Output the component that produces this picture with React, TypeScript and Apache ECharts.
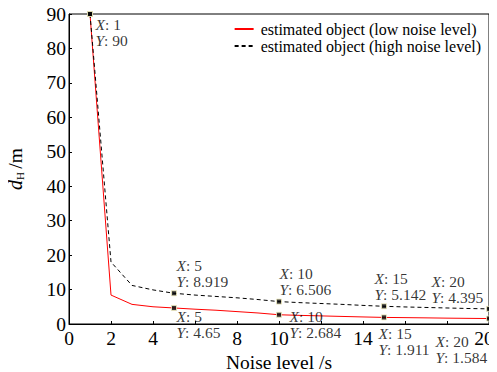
import React, { useEffect, useRef } from "react";
import * as echarts from "echarts";

const noiseLevels = [1, 2, 3, 4, 5, 6, 7, 8, 9, 10, 11, 12, 13, 14, 15, 16, 17, 18, 19, 20];
const lowNoise = [90, 8.4, 5.7, 5.0, 4.65, 4.3, 4.0, 3.6, 3.2, 2.684, 2.5, 2.35, 2.2, 2.05, 1.911, 1.85, 1.78, 1.7, 1.64, 1.584];
const highNoise = [90, 18, 11.2, 9.9, 8.919, 8.4, 8.0, 7.6, 7.1, 6.506, 6.2, 5.95, 5.7, 5.4, 5.142, 4.95, 4.8, 4.65, 4.5, 4.395];
const xTickLabels = ["0", "2", "4", "", "8", "10", "", "14", "", "", "20"];
const seriesNames = ["estimated object (low noise level)", "estimated object (high noise level)"];
const tipIndexes = [0, 4, 9, 14, 19];

const FONT = "Liberation Serif";

export default function App() {
  const ref = useRef<HTMLDivElement>(null);
  useEffect(() => {
    if (!ref.current) return;
    const chart = echarts.init(ref.current, null, { renderer: "svg" });

    const tipRich = {
      i: { fontStyle: "italic", fontFamily: FONT, fontSize: 15.5, color: "#000", lineHeight: 16 },
      n: { fontFamily: FONT, fontSize: 15.5, color: "#000", lineHeight: 16 },
    };
    const fmt = (x: number, y: number) => `{i|X}{n|: ${x}}\n{i|Y}{n|: ${y}}`;

    const lowOffsets: Record<number, [number, number] | null> = {
      0: [6, 3], 4: [3, 1], 9: [11, -6], 14: [-5, 9], 19: [-53, 15],
    };
    const highOffsets: Record<number, [number, number] | null> = {
      0: null, 4: [3, -35], 9: [1, -36], 14: [-9, -35], 19: [-57, -35],
    };

    const tipData = (vals: number[], offs: Record<number, [number, number] | null>) =>
      tipIndexes.map((i) => {
        const o = offs[i];
        return {
          value: [noiseLevels[i], vals[i]],
          label: o
            ? {
                show: true,
                position: [o[0] + 2.5, o[1] + 2.5],
                align: "left",
                verticalAlign: "top",
                formatter: fmt(noiseLevels[i], vals[i]),
                rich: tipRich,
              }
            : { show: false },
        };
      });

    chart.setOption({
      animation: false,
      grid: {
        left: 69, right: 8, top: 14, bottom: 48,
        outerBoundsMode: "none", containLabel: false,
        show: true, borderColor: "#000", borderWidth: 1,
      },
      legend: {
        data: seriesNames,
        orient: "vertical",
        right: 16,
        top: 21,
        itemWidth: 19,
        itemHeight: 14,
        itemGap: 1,
        padding: 0,
        itemStyle: { opacity: 0 },
        textStyle: { fontFamily: FONT, fontSize: 16, color: "#000", padding: [0, 0, 0, 2] },
      },
      xAxis: {
        type: "value",
        min: 0,
        max: 20,
        interval: 2,
        name: "Noise level /s",
        nameLocation: "middle",
        nameGap: 24,
        nameTextStyle: { fontFamily: FONT, fontSize: 19.5, color: "#000" },
        axisLine: { show: true, lineStyle: { color: "#000", width: 1 } },
        axisTick: { show: true, inside: true, length: 3, lineStyle: { color: "#000" } },
        axisLabel: {
          fontFamily: FONT,
          fontSize: 19.5,
          color: "#000",
          margin: 4,
          formatter: (v: number) => {
            const t = xTickLabels[Math.round(v / 2)] ?? "";
            return v === 20 ? `{r|${t}}` : t;
          },
          rich: {
            r: { fontFamily: FONT, fontSize: 19.5, color: "#000", padding: [0, 10, 0, 0] },
          },
        },
        splitLine: { show: false },
      },
      yAxis: {
        type: "value",
        min: 0,
        max: 90,
        interval: 10,
        name: "{d|d}{h|H} {m|/m}",
        nameLocation: "middle",
        nameGap: 44,
        nameTextStyle: {
          rich: {
            d: { fontFamily: FONT, fontStyle: "italic", fontSize: 20, color: "#000" },
            h: { fontFamily: FONT, fontSize: 11, color: "#000", verticalAlign: "bottom", padding: [9, 0, 0, 0] },
            m: { fontFamily: FONT, fontSize: 19.5, color: "#000" },
          },
        },
        axisLine: { show: true, lineStyle: { color: "#000", width: 1 } },
        axisTick: { show: true, inside: true, length: 3, lineStyle: { color: "#000" } },
        axisLabel: { fontFamily: FONT, fontSize: 19.5, color: "#000", margin: 3 },
        splitLine: { show: false },
      },
      series: [
        {
          name: seriesNames[0],
          type: "line",
          data: noiseLevels.map((x, i) => [x, lowNoise[i]]),
          symbol: "none",
          lineStyle: { color: "#ff0000", width: 1 },
          itemStyle: { color: "#ff0000" },
          z: 2,
        },
        {
          name: seriesNames[1],
          type: "line",
          data: noiseLevels.map((x, i) => [x, highNoise[i]]),
          symbol: "none",
          lineStyle: { color: "#000", width: 1, type: [4, 3] },
          itemStyle: { color: "#000" },
          z: 3,
        },
        {
          name: "tips-low",
          type: "scatter",
          data: tipData(lowNoise, lowOffsets),
          symbol: "rect",
          symbolSize: 5,
          itemStyle: { color: "#000", borderColor: "#f3eec0", borderWidth: 1 },
          z: 4,
          clip: false,
        },
        {
          name: "tips-high",
          type: "scatter",
          data: tipData(highNoise, highOffsets),
          symbol: "rect",
          symbolSize: 5,
          itemStyle: { color: "#000", borderColor: "#f3eec0", borderWidth: 1 },
          z: 4,
          clip: false,
        },
      ],
    });
    return () => chart.dispose();
  }, []);
  return <div ref={ref} style={{ width: 497, height: 372, marginLeft: -8, marginTop: -8 }} />;
}
